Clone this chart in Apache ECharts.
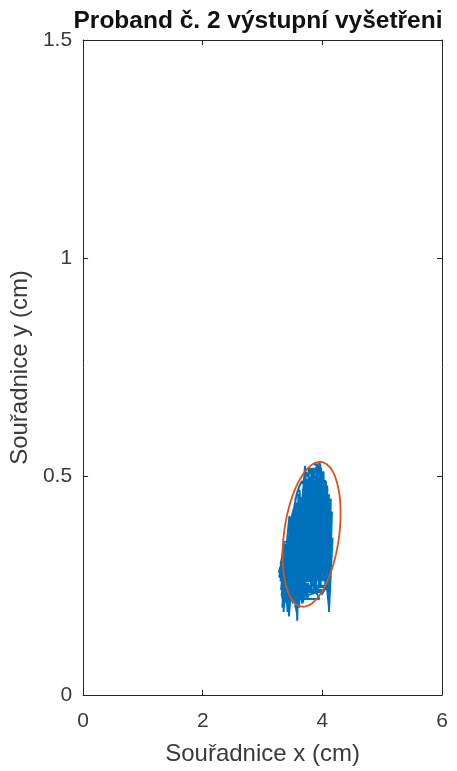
<!DOCTYPE html>
<html><head><meta charset="utf-8">
<script src="https://cdn.jsdelivr.net/npm/echarts@6/dist/echarts.min.js"></script>
<style>html,body{margin:0;padding:0;background:#fff}#c{width:457px;height:771px}</style>
</head><body><div id="c"></div>
<script>
const titleText = 'Proband č. 2 výstupní vyšetřeni';
const xName = 'Souřadnice x (cm)';
const yName = 'Souřadnice y (cm)';
const xRange = [0, 6];
const yRange = [0, 1.5];
const xStep = 2;
const yStep = 0.5;

// COP trajectory (cm)
const swayPoints = [
[3.80,0.38],[3.77,0.46],[3.73,0.31],[3.78,0.50],[3.71,0.27],[3.67,0.45],[3.63,0.24],[3.60,0.46],[3.55,0.20],[3.52,0.42],
[3.48,0.22],[3.50,0.40],[3.44,0.25],[3.46,0.38],[3.40,0.21],[3.42,0.36],[3.36,0.22],[3.38,0.33],[3.30,0.26],[3.34,0.31],
[3.27,0.28],[3.40,0.34],[3.45,0.41],[3.50,0.29],[3.55,0.45],[3.58,0.22],[3.62,0.47],[3.66,0.25],[3.70,0.50],[3.74,0.23],
[3.77,0.52],[3.81,0.24],[3.85,0.50],[3.88,0.25],[3.92,0.52],[3.94,0.24],[3.95,0.535],[3.99,0.26],[4.02,0.51],[4.05,0.24],
[4.08,0.48],[4.10,0.26],[4.14,0.45],[4.12,0.23],[4.16,0.42],[4.11,0.19],[4.17,0.36],[4.08,0.28],[4.12,0.44],[4.04,0.30],
[4.06,0.49],[4.00,0.28],[4.02,0.50],[3.96,0.30],[3.98,0.52],[3.92,0.27],[3.94,0.50],[3.88,0.29],[3.90,0.52],[3.84,0.26],
[3.86,0.51],[3.80,0.28],[3.82,0.52],[3.76,0.27],[3.79,0.50],[3.72,0.28],[3.75,0.49],[3.68,0.26],[3.71,0.47],[3.64,0.29],
[3.67,0.46],[3.60,0.27],[3.63,0.45],[3.56,0.30],[3.58,0.44],[3.52,0.26],[3.54,0.41],[3.48,0.30],[3.50,0.39],[3.44,0.29],
[3.47,0.36],[3.40,0.27],[3.42,0.32],[3.35,0.30],[3.38,0.24],[3.33,0.20],[3.37,0.28],[3.42,0.19],[3.45,0.30],[3.50,0.24],
[3.54,0.35],[3.58,0.17],[3.60,0.33],[3.64,0.22],[3.68,0.38],[3.70,0.22],[3.74,0.36],[3.76,0.24],[3.79,0.40],[3.83,0.25],
[3.86,0.42],[3.89,0.24],[3.93,0.40],[3.97,0.25],[4.00,0.42],[4.03,0.26],[4.07,0.40],[4.09,0.25],[4.13,0.36],[4.10,0.30],
[4.15,0.40],[4.07,0.34],[4.11,0.46],[4.03,0.37],[4.05,0.47],[3.98,0.36],[4.01,0.48],[3.93,0.35],[3.96,0.49],[3.88,0.34],
[3.91,0.48],[3.84,0.33],[3.87,0.47],[3.80,0.32],[3.83,0.46],[3.76,0.31],[3.79,0.45],[3.71,0.33],[3.74,0.44],[3.66,0.32],
[3.69,0.43],[3.61,0.33],[3.64,0.42],[3.56,0.34],[3.59,0.41],[3.51,0.33],[3.55,0.40],[3.47,0.34],[3.52,0.37],[3.43,0.23],
[3.47,0.33],[3.52,0.21],[3.55,0.31],[3.61,0.20],[3.63,0.34],[3.67,0.23],[3.70,0.35],[3.73,0.25],[3.77,0.37],[3.80,0.26],
[3.84,0.38],[3.87,0.27],[3.90,0.39],[3.94,0.28],[3.97,0.40],[4.01,0.29],[4.04,0.41],[4.08,0.31],[4.12,0.42],[4.09,0.37],
[4.14,0.33],[4.06,0.44],[4.02,0.33],[3.99,0.46],[3.95,0.31],[3.91,0.45],[3.87,0.30],[3.83,0.44],[3.79,0.29],[3.75,0.43],
[3.71,0.30],[3.68,0.42],[3.65,0.28],[3.62,0.41],[3.58,0.26],[3.56,0.39],[3.52,0.28],[3.49,0.37],[3.45,0.27],[3.41,0.31],
[3.38,0.23],[3.36,0.32],[3.31,0.24],[3.34,0.29],[3.39,0.26],[3.44,0.35],[3.49,0.41],[3.53,0.43],[3.57,0.46],[3.62,0.48],
[3.66,0.49],[3.70,0.48],[3.73,0.51],[3.76,0.50],[3.79,0.52],[3.82,0.50],[3.85,0.52],[3.88,0.51],[3.91,0.53],[3.93,0.51],
[3.96,0.53],[3.99,0.50],[4.02,0.48],[4.05,0.46],[4.09,0.44],[4.13,0.41],[4.15,0.38],[4.13,0.32],[4.10,0.28],[4.07,0.26],
[4.03,0.24],[3.99,0.23],[3.95,0.25],[3.91,0.23],[3.87,0.26],[3.83,0.23],[3.79,0.25],[3.75,0.22],[3.71,0.24],[3.67,0.21],
[3.63,0.23],[3.59,0.21],[3.55,0.24],[3.51,0.21],[3.47,0.23],[3.43,0.20],[3.39,0.22],[3.35,0.21],[3.32,0.23],[3.36,0.27],
[3.40,0.30],[3.46,0.32],[3.53,0.35],[3.60,0.36],[3.67,0.37],[3.74,0.39],[3.81,0.40],[3.88,0.41],[3.95,0.43],[4.02,0.44],
[4.08,0.45],[4.03,0.38],[3.96,0.37],[3.89,0.36],[3.82,0.35],[3.75,0.34],[3.68,0.33],[3.61,0.31],[3.54,0.29],[3.48,0.27],
[3.42,0.26],[3.50,0.31],[3.58,0.36],[3.66,0.40],[3.73,0.42],[3.80,0.44],[3.87,0.45],[3.94,0.46],[4.01,0.45],[4.07,0.42],
[4.11,0.39],[4.05,0.35],[3.98,0.33],[3.91,0.32],[3.84,0.30],[3.77,0.29],[3.70,0.28],[3.63,0.27],[3.56,0.25],[3.49,0.25],
[3.44,0.28],[3.52,0.33],[3.59,0.38],[3.66,0.43],[3.72,0.46],[3.78,0.47],[3.84,0.48],[3.90,0.49],[3.97,0.47],[4.04,0.43],
[4.09,0.40],[3.95,0.40],[3.82,0.41],[3.69,0.39],[3.57,0.38],[3.46,0.36],[3.37,0.34],[3.30,0.30],[3.62,0.36],[3.71,0.525],
[3.76,0.40],[3.80,0.38],[3.48,0.36],[4.12,0.35],[3.46,0.31],[4.13,0.30],[3.42,0.28],[4.10,0.27],[3.40,0.25],[4.06,0.25],
[3.50,0.23],[4.00,0.24],[3.56,0.22],[3.95,0.22],[3.72,0.29],[3.58,0.43],[4.14,0.43],[3.60,0.45],[4.10,0.47],[3.66,0.47],
[4.06,0.49],[3.70,0.49],[4.03,0.51],[3.76,0.51],[3.98,0.515],[3.86,0.53],[3.95,0.52],[3.90,0.46],[3.52,0.39],[4.16,0.39],
[3.50,0.34],[4.15,0.34],[3.44,0.32],[3.46,0.24],[3.44,0.18],[3.49,0.26],[3.57,0.19],[3.62,0.25],[3.66,0.21],[3.70,0.27],
[4.06,0.27],[4.11,0.20],[4.08,0.30],[3.38,0.30],[3.35,0.19],[3.40,0.27],[3.28,0.27],[3.36,0.35],[3.80,0.38]
];

// Confidence ellipse parameters (cm): centre, horizontal half-width, shear of top point, vertical half-height
const ellipseCenter = [3.82, 0.368];
const ellipseHalfX = [0.464];
const ellipseShear = [0.14];
const ellipseHalfY = [0.166];

const ellipsePts = [];
for (let i = 0; i <= 90; i++) {
  const t = 2 * Math.PI * i / 90;
  ellipsePts.push([
    ellipseCenter[0] + ellipseHalfX[0] * Math.cos(t) + ellipseShear[0] * Math.sin(t),
    ellipseCenter[1] + ellipseHalfY[0] * Math.sin(t)
  ]);
}

const ink = '#262626';
const txt = '#3a3a3a';
const font = 'Liberation Sans, Arial, Helvetica, sans-serif';

function mkX(pos, labels) {
  return {
    type: 'value', min: xRange[0], max: xRange[1], interval: xStep, position: pos,
    axisLine: {show: true, onZero: false, lineStyle: {color: ink, width: 1}},
    axisTick: {show: true, inside: true, length: 5, lineStyle: {color: ink}},
    axisLabel: {show: labels, margin: 16, fontSize: 21, color: txt, fontFamily: font},
    splitLine: {show: false},
    name: labels ? xName : '', nameLocation: 'middle', nameGap: 47,
    nameTextStyle: {fontSize: 24, color: txt, fontFamily: font}
  };
}
function mkY(pos, labels) {
  return {
    type: 'value', min: yRange[0], max: yRange[1], interval: yStep, position: pos,
    axisLine: {show: true, onZero: false, lineStyle: {color: ink, width: 1}},
    axisTick: {show: true, inside: true, length: 5, lineStyle: {color: ink}},
    axisLabel: {show: labels, margin: 11, fontSize: 21, color: txt, fontFamily: font},
    splitLine: {show: false},
    name: labels ? yName : '', nameLocation: 'middle', nameGap: 40,
    nameTextStyle: {fontSize: 24, color: txt, fontFamily: font}
  };
}

const chart = echarts.init(document.getElementById('c'), null, {renderer: 'canvas'});
chart.setOption({
  animation: false,
  backgroundColor: '#fff',
  title: {
    text: titleText, left: 258, top: 9, padding: 0, textAlign: 'center',
    textStyle: {fontSize: 24.5, fontWeight: 'bold', color: '#111', fontFamily: font}
  },
  grid: {left: 83, right: 15, top: 40, bottom: 75, containLabel: false},
  xAxis: [mkX('bottom', true), mkX('top', false)],
  yAxis: [mkY('left', true), mkY('right', false)],
  series: [
    {type: 'line', data: swayPoints, showSymbol: false, symbol: 'none',
     lineStyle: {color: '#0072BD', width: 2}, itemStyle: {color: '#0072BD'}, xAxisIndex: 0, yAxisIndex: 0},
    {type: 'line', data: ellipsePts, showSymbol: false, symbol: 'none', smooth: false,
     lineStyle: {color: '#D95319', width: 1.8}, itemStyle: {color: '#D95319'}, xAxisIndex: 0, yAxisIndex: 0}
  ]
});
</script></body></html>
